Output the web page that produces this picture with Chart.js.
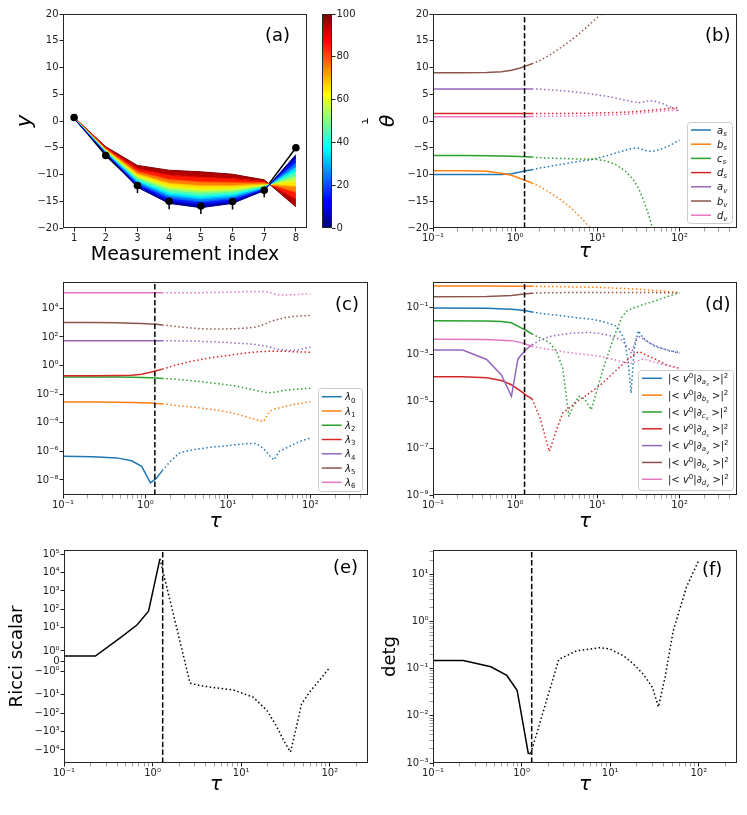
<!DOCTYPE html>
<html><head><meta charset="utf-8"><title>chart</title>
<script src="https://cdn.jsdelivr.net/npm/chart.js@4.4.1/dist/chart.umd.min.js"></script>
<style>
html,body{margin:0;padding:0;background:#fff;}
body{width:747px;height:815px;position:relative;overflow:hidden;}
canvas{position:absolute;}
</style></head><body>
<script>
// ================= DATA =================
// (a) measurements and fitted curves for several tau values
const measIdx = [1,2,3,4,5,6,7,8];
const measY   = [0.66,-6.45,-12.07,-15.0,-15.9,-15.06,-12.94,-5.0];
const measErr = [0,0,1.4,1.5,1.5,1.5,1.3,0];
const fanTau  = [0,10,20,30,40,50,60,70,80,90,100];
const fanY0   = [0.40,-6.20,-12.40,-15.40,-16.20,-15.40,-13.00,-6.30];
const fanY10  = [0.42,-6.09,-12.07,-14.90,-15.66,-14.96,-12.85,-7.08];
const fanY20  = [0.45,-5.98,-11.74,-14.41,-15.13,-14.53,-12.70,-7.86];
const fanY30  = [0.47,-5.86,-11.42,-13.91,-14.59,-14.09,-12.55,-8.64];
const fanY40  = [0.50,-5.75,-11.09,-13.42,-14.06,-13.66,-12.38,-9.42];
const fanY50  = [0.52,-5.63,-10.72,-12.86,-13.45,-13.17,-12.20,-10.30];
const fanY60  = [0.55,-5.50,-10.35,-12.30,-12.85,-12.68,-12.00,-11.18];
const fanY70  = [0.58,-5.35,-9.90,-11.62,-12.11,-12.08,-11.78,-12.25];
const fanY80  = [0.62,-5.19,-9.45,-10.94,-11.38,-11.48,-11.55,-13.32];
const fanY90  = [0.66,-5.01,-8.92,-10.13,-10.51,-10.77,-11.28,-14.59];
const fanY100 = [0.70,-4.80,-8.30,-9.20,-9.50,-9.95,-11.00,-16.05];

// common tau grid for (b) and (c)
const tauGrid = [0.1,0.23,0.45,0.68,0.9,1.15,1.35,1.6,2,2.6,3.5,4.5,6,8,10,13,17,22,27,32,36,42,50,60,75,100];
const tauCrit = 1.3;

// (b) parameters theta
const thAs = [-10,-10,-10,-9.98,-9.85,-9.55,-9.3,-9.1,-8.8,-8.5,-8.15,-7.85,-7.55,-7.25,-6.95,-6.5,-5.95,-5.45,-5.1,-5.1,-5.4,-5.65,-5.6,-5.25,-4.6,-3.6];
const thBs = [-9.3,-9.3,-9.4,-9.75,-10.15,-10.75,-11.15,-11.6,-12.3,-13.3,-14.6,-15.9,-17.7,-19.8,-21.3];
const thCs = [-6.45,-6.45,-6.5,-6.55,-6.6,-6.65,-6.7,-6.75,-6.85,-6.95,-7.0,-7.05,-7.1,-7.1,-7.2,-7.5,-8.2,-9.4,-10.8,-12.7,-14.6,-17.5,-21.5];
const thDs = [1.4,1.4,1.4,1.4,1.4,1.4,1.4,1.4,1.4,1.4,1.4,1.42,1.44,1.46,1.5,1.55,1.6,1.66,1.72,1.8,1.88,1.97,2.07,2.2,2.35,2.5];
const thAv = [6.0,6.0,6.0,6.0,6.0,6.0,6.0,6.0,5.95,5.85,5.7,5.55,5.35,5.1,4.9,4.6,4.25,3.9,3.6,3.4,3.55,3.75,3.7,3.35,2.7,1.85];
const thBv = [9.0,9.0,9.05,9.2,9.5,9.9,10.3,10.7,11.3,12.3,13.6,14.8,16.3,18.0,19.4,21.2];
const thDv = [0.8,0.8,0.8,0.8,0.8,0.8,0.8,0.82,0.85,0.88,0.9,0.93,0.96,1.0,1.05,1.1,1.18,1.25,1.35,1.45,1.55,1.65,1.75,1.85,1.95,2.0];

// (c) eigenvalues lambda
const lam0 = [4.5e-7,4.2e-7,3.5e-7,2.2e-7,8.9e-8,6.3e-9,1.3e-8,4.5e-8,2.0e-7,7.9e-7,1.2e-6,1.5e-6,1.9e-6,2.2e-6,2.5e-6,3.0e-6,3.5e-6,3.5e-6,1.6e-6,5.0e-7,2.5e-7,1.0e-6,1.6e-6,2.8e-6,5.0e-6,8.5e-6];
const lam1 = [2.8e-3,2.8e-3,2.75e-3,2.6e-3,2.5e-3,2.4e-3,2.2e-3,2.1e-3,1.8e-3,1.5e-3,1.3e-3,1.1e-3,8.9e-4,7.1e-4,5.6e-4,4.0e-4,2.5e-4,1.6e-4,1.2e-4,6.3e-4,8.9e-4,1.1e-3,1.4e-3,1.8e-3,2.2e-3,3.0e-3];
const lam2 = [0.158,0.158,0.155,0.151,0.145,0.138,0.132,0.126,0.117,0.105,0.089,0.076,0.063,0.052,0.045,0.035,0.025,0.018,0.014,0.0126,0.0135,0.0158,0.0186,0.021,0.023,0.026];
const lam3 = [0.19,0.19,0.2,0.21,0.25,0.34,0.43,0.56,0.83,1.26,1.9,2.5,3.3,4.3,5.0,6.3,7.6,8.9,9.5,10,10,10,9.8,9.3,8.9,8.5];
const lam4 = [55,55,55,55,55,55,55,55,54,52,51,49,47,43,40,36,33,29,24,20,16,13,11.7,11.2,13,20];
const lam5 = [1000,1000,980,910,850,790,760,690,600,500,420,380,355,355,363,380,420,500,710,1120,1410,1780,2240,2630,2950,3160];
const lam6 = [1.2e5,1.2e5,1.2e5,1.2e5,1.2e5,1.2e5,1.2e5,1.2e5,1.2e5,1.2e5,1.2e5,1.23e5,1.26e5,1.29e5,1.32e5,1.38e5,1.48e5,1.51e5,1.48e5,1.32e5,1.0e5,8.5e4,8.5e4,8.9e4,9.5e4,1.05e5];

// (d) overlaps |<v0|d_theta>|^2
const tauDas = [0.1,0.45,0.9,1.15,1.35,1.6,2,2.6,3.5,4.5,6,8,10,13,17,21,23.5,25.7,28,31.5,36,42,50,60,75,100];
const ovAs   = [0.093,0.091,0.083,0.076,0.071,0.063,0.056,0.05,0.045,0.04,0.035,0.032,0.028,0.022,0.016,5.0e-3,6.3e-4,2.2e-5,1.6e-3,0.01,5.0e-3,3.2e-3,2.2e-3,1.8e-3,1.4e-3,1.2e-3];
const tauDbs = [0.1,0.45,0.9,1.35,1.6,3.5,10,30,100];
const ovBs   = [0.81,0.81,0.79,0.79,0.79,0.76,0.71,0.6,0.43];
const tauDcs = [0.1,0.45,0.68,0.9,1.15,1.35,1.6,2,2.6,3.2,3.8,4.5,5.2,6,7,8.4,10,11.6,13.5,15.4,17.5,20,23,27,35,47,70,100];
const ovCs   = [0.027,0.026,0.025,0.022,0.014,0.0105,7.4e-3,5.0e-3,3.2e-3,1.26e-3,2.5e-4,2.2e-6,7.9e-6,1.6e-5,1.26e-5,4.3e-6,3.2e-5,2.1e-4,1.0e-3,4.0e-3,0.0126,0.04,0.071,0.091,0.126,0.174,0.28,0.42];
const tauDds = [0.1,0.23,0.45,0.68,0.9,1.15,1.35,1.6,2,2.6,3.2,3.8,4.5,6,8,11.6,15,20,25,30,33,40,50,70,100];
const ovDs   = [1.1e-4,1.1e-4,1.0e-4,7.6e-5,5.0e-5,2.8e-5,1.8e-5,1.26e-5,2.0e-6,7.1e-8,6.3e-7,3.2e-6,5.0e-6,1.1e-5,2.2e-5,5.9e-5,1.4e-4,3.5e-4,7.1e-4,1.17e-3,1.26e-3,8.9e-4,6.3e-4,3.5e-4,2.5e-4];
const tauDav = [0.1,0.23,0.45,0.68,0.9,1.08,1.35,1.6,2,2.6,3.5,5,8,10,14,20,24,26,30,33,42,60,100];
const ovAv   = [1.5e-3,1.5e-3,6.0e-4,1.3e-4,1.6e-5,6.3e-4,1.6e-3,2.5e-3,4.0e-3,5.6e-3,6.8e-3,7.9e-3,8.5e-3,7.9e-3,6.3e-3,4.0e-3,1.8e-3,1.1e-3,5.0e-3,5.6e-3,3.2e-3,1.8e-3,1.1e-3];
const tauDbv = [0.1,0.45,0.9,1.35,1.6,2.6,10,100];
const ovBv   = [0.28,0.29,0.32,0.38,0.40,0.42,0.43,0.42];
const tauDdv = [0.1,0.45,0.9,1.15,1.35,1.6,2.6,4,6,10,15,20,25,30,36,50,75,100];
const ovDv   = [4.4e-3,4.3e-3,3.8e-3,3.2e-3,2.7e-3,2.2e-3,1.6e-3,1.26e-3,1.05e-3,8.5e-4,6.3e-4,4.7e-4,4.0e-4,5.0e-4,6.3e-4,4.5e-4,3.2e-4,2.5e-4];

// (e) Ricci scalar
const tauE  = [0.1,0.226,0.45,0.67,0.9,1.21,2.65,3.4,5,8.2,13.7,19.5,25,30,36,42,48,60,79,100];
const ricci = [0.5,0.5,3.3,14.6,80,5.5e4,-2.4,-3.2,-4.2,-5.6,-13.9,-72,-500,-2900,-1.3e4,-560,-32,-6.7,-1.7,-0.6];

// (f) det g
const tauF = [0.1,0.22,0.45,0.68,0.89,1.19,1.27,2.63,4.2,7.7,10,14,18,23.7,30,35,41.5,51.5,72.6,100];
const detg = [0.15,0.15,0.11,0.072,0.035,0.0016,0.0016,0.158,0.24,0.28,0.26,0.19,0.13,0.076,0.04,0.0155,0.064,0.64,5.4,20];

// tick labels
const xLogMajors = [0.1,1,10,100];
const xLogLabels = ['10⁻¹','10⁰','10¹','10²'];
const cMajors = [1e-8,1e-6,1e-4,1e-2,1,1e2,1e4];
const cLabels = ['10⁻⁸','10⁻⁶','10⁻⁴','10⁻²','10⁰','10²','10⁴'];
const dMajors = [1e-9,1e-7,1e-5,1e-3,1e-1];
const dLabels = ['10⁻⁹','10⁻⁷','10⁻⁵','10⁻³','10⁻¹'];
const eTicks  = [1e5,1e4,1e3,1e2,10,1,0,-1,-10,-100,-1000,-1e4];
const eLabels = ['10⁵','10⁴','10³','10²','10¹','10⁰','0','−10⁰','−10¹','−10²','−10³','−10⁴'];
const fMajors = [1e-3,1e-2,1e-1,1,10];
const fLabels = ['10⁻³','10⁻²','10⁻¹','10⁰','10¹'];
const cbTicks = [0,20,40,60,80,100];

// ================= STYLE / HELPERS =================
const FONT = 'DejaVu Sans';
Chart.defaults.font.family = FONT;
const COL = ['#1f77b4','#ff7f0e','#2ca02c','#d62728','#9467bd','#8c564b','#e377c2'];
const DOT = [1.5, 2.5];
const DASH = [5.5, 2.4];

function jet(t){
  const c = v => Math.max(0, Math.min(1, v));
  const r = c(1.5 - Math.abs(4*t - 3)), g = c(1.5 - Math.abs(4*t - 2)), b = c(1.5 - Math.abs(4*t - 1));
  return `rgb(${Math.round(r*255)},${Math.round(g*255)},${Math.round(b*255)})`;
}
function series(xs, ys){ return ys.map((y, i) => ({x: xs[i], y})); }
function lineDs(xs, ys, color, cut, ord){
  return { data: series(xs, ys), borderColor: color, backgroundColor: color, borderWidth: 1.5,
    pointRadius: 0, fill: false, tension: 0, order: ord,
    segment: { borderDash: c => (c.p0.parsed.x >= cut - 1e-9 ? DOT : undefined) } };
}
function vline(y0, y1){
  return { data: [{x: tauCrit, y: y0}, {x: tauCrit, y: y1}], borderColor: '#000', borderWidth: 1.5,
    borderDash: DASH, pointRadius: 0, fill: false, order: -20 };
}
function mkLogTicks(majors, labels, lo, hi, withMinor){
  const t = majors.map((v, i) => ({value: v, lab: labels[i], minor: false}));
  if (withMinor){
    for (let e = Math.floor(Math.log10(lo)); e <= Math.ceil(Math.log10(hi)); e++){
      for (let m = 2; m <= 9; m++){
        const v = m * Math.pow(10, e);
        if (v > lo && v < hi) t.push({value: v, lab: '', minor: true});
      }
    }
  }
  return t.sort((a, b) => a.value - b.value);
}
const gridCfg = { display: true, drawOnChartArea: false, drawTicks: true, tickLength: 3.5,
  tickColor: c => (c.tick && c.tick.minor) ? '#777' : '#222',
  tickWidth: c => (c.tick && c.tick.minor) ? 0.7 : 1 };
const tickFont = { family: FONT, size: 10 };
function ticksCfg(extra){ return Object.assign({ font: tickFont, color: '#222', padding: 1, maxRotation: 0, minRotation: 0, autoSkip: false,
  callback: (v, i, t) => (t[i] && t[i].lab !== undefined) ? t[i].lab : String(v).replace('-', '−') }, extra || {}); }
function yTitle(text, size, italic, cx, cl){
  return { display: true, text, color: '#000', font: { family: FONT, size, style: italic ? 'italic' : 'normal' },
    padding: { top: cx - cl - size * 0.6, bottom: 0 } };
}
function yTitleR(text, size, italic, cx, cr){
  return { display: true, text, color: '#000', font: { family: FONT, size, style: italic ? 'italic' : 'normal' },
    padding: { top: cr - cx - size * 0.6, bottom: 0 } };
}
function xTitle(text, size, italic, cy, cb){
  return { display: true, text, color: '#000', font: { family: FONT, size, style: italic ? 'italic' : 'normal' },
    padding: { top: 0, bottom: cb - cy - size * 0.6 } };
}
function xLog(max, title){
  return { type: 'logarithmic', min: 0.1, max, bounds: 'data',
    afterBuildTicks: s => { s.ticks = mkLogTicks(xLogMajors, xLogLabels, 0.1, max, true); },
    ticks: ticksCfg(), grid: gridCfg, border: { display: false }, title };
}
function linTicks(vals){ return s => { s.ticks = vals.map(v => ({ value: v })); }; }

// symmetric log scale (linthresh 2, linscale 1, base 10)
const SYM_L = 2, SYM_A = 1 / (1 - 0.1);
function symT(v){ const a = Math.abs(v); return a <= SYM_L ? v * SYM_A : Math.sign(v) * SYM_L * (SYM_A + Math.log10(a / SYM_L)); }
function symInv(t){ const a = Math.abs(t); return a <= SYM_L * SYM_A ? t / SYM_A : Math.sign(t) * SYM_L * Math.pow(10, a / SYM_L - SYM_A); }
class SymlogScale extends Chart.Scale {
  determineDataLimits(){ this.min = this.options.min; this.max = this.options.max; }
  buildTicks(){ return (this.options.tickValues || []).map(v => ({ value: v })); }
  configure(){ super.configure(); this._t0 = symT(this.min); this._t1 = symT(this.max); }
  getPixelForValue(v){ return this.getPixelForDecimal((symT(v) - this._t0) / (this._t1 - this._t0)); }
  getValueForPixel(p){ return symInv(this._t0 + this.getDecimalForPixel(p) * (this._t1 - this._t0)); }
  getLabelForValue(v){ return String(v); }
}
SymlogScale.id = 'symlog';
SymlogScale.defaults = {};
Chart.register(SymlogScale);

// decorations: frame, legends, panel labels, colorbar gradient
const deco = {};
function drawRich(ctx, segs, x, y, size){
  let cx = x;
  for (const [txt, kind] of segs){
    const it = kind.includes('i');
    let s = size, dy = 0;
    if (kind.includes('subsub')) { s = size * 0.5; dy = size * 0.45; }
    else if (kind.includes('sub')) { s = size * 0.7; dy = size * 0.22; }
    else if (kind.includes('sup')) { s = size * 0.7; dy = -size * 0.38; }
    ctx.font = `${it ? 'italic ' : ''}${s}px "${FONT}"`;
    ctx.fillText(txt, cx, y + dy);
    cx += ctx.measureText(txt).width;
  }
}
Chart.register({
  id: 'deco',
  beforeDatasetsDraw(chart){
    const d = deco[chart.canvas.id]; if (!d || !d.colorbar) return;
    const ctx = chart.ctx, a = chart.chartArea;
    const g = ctx.createLinearGradient(0, a.bottom, 0, a.top);
    for (let i = 0; i <= 40; i++) g.addColorStop(i / 40, jet(i / 40));
    ctx.save(); ctx.fillStyle = g; ctx.fillRect(a.left, a.top, a.right - a.left, a.bottom - a.top); ctx.restore();
  },
  afterDraw(chart){
    const d = deco[chart.canvas.id]; if (!d) return;
    const ctx = chart.ctx, a = chart.chartArea, ox = d.ox, oy = d.oy;
    ctx.save();
    ctx.strokeStyle = '#262626'; ctx.lineWidth = 1;
    ctx.strokeRect(Math.round(a.left) + 0.5, Math.round(a.top) + 0.5, Math.round(a.right - a.left) - 1, Math.round(a.bottom - a.top) - 1);
    if (d.legend){
      const L = d.legend;
      const [bx0, by0, bx1, by1] = L.box;
      ctx.beginPath();
      if (ctx.roundRect) ctx.roundRect(bx0 - ox + 0.5, by0 - oy + 0.5, bx1 - bx0, by1 - by0, 3);
      else ctx.rect(bx0 - ox + 0.5, by0 - oy + 0.5, bx1 - bx0, by1 - by0);
      ctx.fillStyle = 'rgba(255,255,255,0.8)'; ctx.fill();
      ctx.strokeStyle = '#cccccc'; ctx.lineWidth = 1; ctx.stroke();
      L.items.forEach((it, i) => {
        const cy = L.y0 + i * L.step - oy;
        ctx.beginPath(); ctx.strokeStyle = it.color; ctx.lineWidth = 1.5; ctx.setLineDash([]);
        ctx.moveTo(L.hx[0] - ox, cy); ctx.lineTo(L.hx[1] - ox, cy); ctx.stroke();
        ctx.fillStyle = '#111'; ctx.textBaseline = 'alphabetic'; ctx.textAlign = 'left';
        drawRich(ctx, it.segs, L.tx - ox, cy + 3.6, L.size);
      });
    }
    if (d.label){
      ctx.fillStyle = '#000'; ctx.textBaseline = 'alphabetic'; ctx.textAlign = 'left';
      ctx.font = `18px "${FONT}"`;
      ctx.fillText(d.label.text, d.label.x - ox, d.label.y - oy);
    }
    ctx.restore();
  }
});

function makePanel(id, crect, area, cfg){
  const [cl, ct, cr, cb] = crect, [L, T, R, B] = area;
  const cv = document.createElement('canvas'); cv.id = id;
  const w = cr - cl, h = cb - ct;
  cv.width = w; cv.height = h;
  Object.assign(cv.style, { left: cl + 'px', top: ct + 'px', width: w + 'px', height: h + 'px' });
  document.body.appendChild(cv);
  deco[id] = Object.assign({ ox: cl, oy: ct }, cfg.deco || {});
  const yRight = !!cfg.yRight, xHidden = cfg.x.display === false;
  const xs = Object.assign({}, cfg.x);
  if (!xHidden) xs.afterFit = s => { s.height = cb - B; };
  const ys = Object.assign({}, cfg.y, { position: yRight ? 'right' : 'left', afterFit: s => { s.width = yRight ? cr - R : L - cl; } });
  const padding = { top: T - ct, right: yRight ? 0 : cr - R, left: yRight ? L - cl : 0, bottom: xHidden ? cb - B : 0 };
  return new Chart(cv, { type: 'line', data: { datasets: cfg.datasets }, options: {
    responsive: false, animation: false, events: [],
    layout: { padding, autoPadding: false },
    plugins: { legend: { display: false }, tooltip: { enabled: false } },
    scales: { x: xs, y: ys } } });
}

// ================= PANEL (a) =================
(function(){
  const fan = [fanY0, fanY10, fanY20, fanY30, fanY40, fanY50, fanY60, fanY70, fanY80, fanY90, fanY100];
  const ds = [];
  fan.forEach((ys, k) => {
    ds.push({ data: series(measIdx, ys), borderColor: jet(fanTau[k] / 100), borderWidth: 1, pointRadius: 0, tension: 0, order: 1,
      fill: k === 0 ? false : '-1', backgroundColor: k === 0 ? 'rgba(0,0,0,0)' : jet((fanTau[k] + fanTau[k - 1]) / 200) });
  });
  const err = [];
  measIdx.forEach((x, i) => { err.push({ x, y: measY[i] - measErr[i] }, { x, y: measY[i] + measErr[i] }, { x, y: null }); });
  ds.push({ data: err, borderColor: '#000', borderWidth: 1.5, pointRadius: 0, fill: false, spanGaps: false, order: 2 });
  ds.push({ data: series(measIdx, measY), borderColor: '#000', borderWidth: 1.5, pointRadius: 0, fill: false, order: 2 });
  ds.push({ data: series(measIdx, measY), showLine: false, pointRadius: 3.8, pointBackgroundColor: '#000', pointBorderWidth: 0, fill: false, order: 0 });
  makePanel('pa', [0, 0, 315, 270], [63, 14, 307, 228], {
    datasets: ds,
    x: { type: 'linear', min: 0.65, max: 8.35, afterBuildTicks: linTicks(measIdx), ticks: ticksCfg(), grid: gridCfg, border: { display: false },
         title: xTitle('Measurement index', 19, false, 255, 270) },
    y: { type: 'linear', min: -20, max: 20, ticks: ticksCfg({ stepSize: 5 }), grid: gridCfg, border: { display: false },
         title: yTitle('y', 21, true, 25.5, 0) },
    deco: { label: { text: '(a)', x: 265, y: 40.7 } }
  });
  // colorbar
  makePanel('pcb', [315, 0, 380, 270], [322, 14, 332, 228], {
    datasets: [], yRight: true,
    x: { type: 'linear', display: false, min: 0, max: 1 },
    y: { type: 'linear', min: 0, max: 100, afterBuildTicks: linTicks(cbTicks), ticks: ticksCfg(), grid: gridCfg, border: { display: false },
         title: yTitleR('τ', 11, false, 364.5, 380) },
    deco: { colorbar: true }
  });
})();

// ================= PANEL (b) =================
(function(){
  const names = [['a','s'],['b','s'],['c','s'],['d','s'],['a','v'],['b','v'],['d','v']];
  const vals = [thAs, thBs, thCs, thDs, thAv, thBv, thDv];
  const ds = [vline(-20, 20)];
  vals.forEach((v, i) => ds.push(lineDs(tauGrid, v, COL[i], 1.6, -i)));
  makePanel('pb', [370, 0, 747, 270], [433, 14, 737, 228], {
    datasets: ds,
    x: xLog(500, xTitle('τ', 20, true, 252, 270)),
    y: { type: 'linear', min: -20, max: 20, ticks: ticksCfg({ stepSize: 5 }), grid: gridCfg, border: { display: false },
         title: yTitle('θ', 20, true, 389, 370) },
    deco: { label: { text: '(b)', x: 705, y: 40.7 },
      legend: { box: [687, 122, 732, 223], y0: 130, step: 14.2, hx: [691, 711], tx: 717, size: 10,
        items: names.map((n, i) => ({ color: COL[i], segs: [[n[0], 'i'], [n[1], 'i sub']] })) } }
  });
})();

// ================= PANEL (c) =================
(function(){
  const vals = [lam0, lam1, lam2, lam3, lam4, lam5, lam6];
  const ds = [vline(8.9e-10, 6.9e5)];
  vals.forEach((v, i) => ds.push(lineDs(tauGrid, v, COL[i], 1.6, -i)));
  makePanel('pc', [0, 270, 370, 540], [63, 282, 368, 495], {
    datasets: ds,
    x: xLog(500, xTitle('τ', 20, true, 522, 540)),
    y: { type: 'logarithmic', min: 8.9e-10, max: 6.9e5, bounds: 'data',
         afterBuildTicks: s => { s.ticks = mkLogTicks(cMajors, cLabels, 8.9e-10, 6.9e5, false); },
         ticks: ticksCfg(), grid: gridCfg, border: { display: false } },
    deco: { label: { text: '(c)', x: 335, y: 309.5 },
      legend: { box: [318, 388, 362, 491], y0: 396.7, step: 14.27, hx: [321.7, 341.7], tx: 345, size: 10,
        items: vals.map((v, i) => ({ color: COL[i], segs: [['λ', 'i'], [String(i), 'sub']] })) } }
  });
})();

// ================= PANEL (d) =================
(function(){
  const xs = [tauDas, tauDbs, tauDcs, tauDds, tauDav, tauDbv, tauDdv];
  const vals = [ovAs, ovBs, ovCs, ovDs, ovAv, ovBv, ovDv];
  const names = [['a','s'],['b','s'],['c','s'],['d','s'],['a','v'],['b','v'],['d','v']];
  const ds = [vline(1e-9, 1.2)];
  vals.forEach((v, i) => ds.push(lineDs(xs[i], v, COL[i], 1.6, -i)));
  makePanel('pd', [370, 270, 747, 540], [433, 282, 737, 495], {
    datasets: ds,
    x: xLog(500, xTitle('τ', 20, true, 522, 540)),
    y: { type: 'logarithmic', min: 1e-9, max: 1.2, bounds: 'data',
         afterBuildTicks: s => { s.ticks = mkLogTicks(dMajors, dLabels, 1e-9, 1.2, false); },
         ticks: ticksCfg(), grid: gridCfg, border: { display: false } },
    deco: { label: { text: '(d)', x: 705, y: 309.5 },
      legend: { box: [638, 370, 733, 490], y0: 378.3, step: 16.83, hx: [642, 662], tx: 668, size: 10,
        items: names.map((n, i) => ({ color: COL[i], segs: [['|< ', ''], ['v', 'i'], ['0', 'sup'], ['|∂', ''], [n[0], 'i sub'], [n[1], 'i subsub'], [' >|', ''], ['2', 'sup']] })) } }
  });
})();

// ================= PANEL (e) =================
(function(){
  const ds = [vline(-5.07e4, 1.65e5), lineDs(tauE, ricci, '#000', 1.21, 0)];
  makePanel('pe', [0, 540, 370, 815], [64, 550, 368, 763], {
    datasets: ds,
    x: xLog(270, xTitle('τ', 20, true, 785, 815)),
    y: { type: 'symlog', min: -5.07e4, max: 1.65e5, tickValues: eTicks,
         ticks: ticksCfg({ callback: (v) => eLabels[eTicks.indexOf(v)] }), grid: gridCfg, border: { display: false },
         title: yTitle('Ricci scalar', 18, false, 17, 0) },
    deco: { label: { text: '(e)', x: 333, y: 572.5 } }
  });
})();

// ================= PANEL (f) =================
(function(){
  const ds = [vline(1e-3, 33), lineDs(tauF, detg, '#000', 1.27, 0)];
  makePanel('pf', [370, 540, 747, 815], [433, 550, 737, 763], {
    datasets: ds,
    x: xLog(270, xTitle('τ', 20, true, 785, 815)),
    y: { type: 'logarithmic', min: 1e-3, max: 33, bounds: 'data',
         afterBuildTicks: s => { s.ticks = mkLogTicks(fMajors, fLabels, 1e-3, 33, true); },
         ticks: ticksCfg(), grid: gridCfg, border: { display: false },
         title: yTitle('detg', 18, false, 390, 370) },
    deco: { label: { text: '(f)', x: 702, y: 575 } }
  });
})();
</script>
</body></html>
